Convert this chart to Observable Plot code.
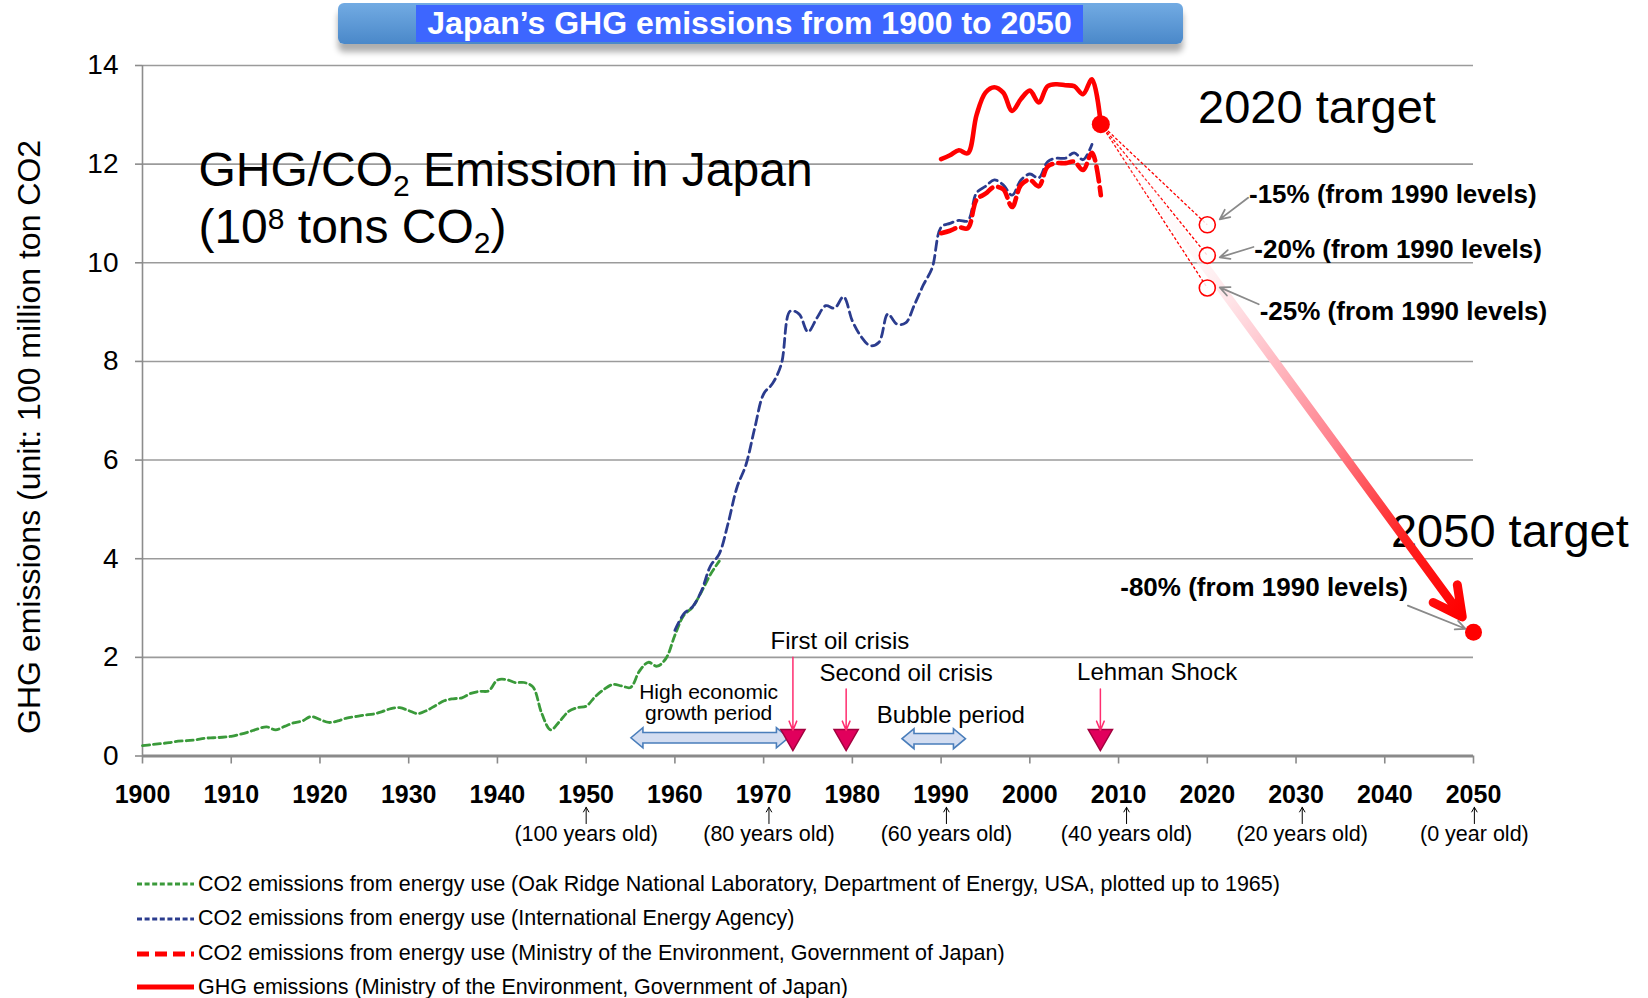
<!DOCTYPE html>
<html>
<head>
<meta charset="utf-8">
<script src="https://cdn.jsdelivr.net/npm/d3@7"></script>
<script src="https://cdn.jsdelivr.net/npm/@observablehq/plot@0.6"></script>
<style>
  html,body{margin:0;padding:0;background:#fff;}
  body{font-family:"Liberation Sans",Arial,Helvetica,sans-serif;color:#000;}
  #wrap{position:relative;width:1648px;height:998px;overflow:hidden;background:#fff;}
  #chart{position:absolute;left:0;top:0;}
  #banner{position:absolute;left:338px;top:3px;width:845px;height:41px;border-radius:6px;
    background:linear-gradient(#72abe3,#4a88c9);box-shadow:0 8px 6px rgba(0,0,0,.32);z-index:3;}
  #banner .inner{position:absolute;left:78px;top:2px;width:667px;height:37px;background:#3d66ff;
    color:#fff;font-weight:bold;font-size:32px;line-height:37px;text-align:center;white-space:nowrap;}
  .lg{position:absolute;left:137px;height:34px;display:flex;align-items:center;font-size:21.5px;white-space:nowrap;}
  .lg svg{margin-right:4px;display:block;}
</style>
</head>
<body>
<div id="wrap">
  <div id="chart"></div>
  <div id="banner"><div class="inner" id="bannerText"></div></div>
  <div id="legend"></div>
</div>
<script>
// ---------------- data ----------------
const chartTitle = "Japan’s GHG emissions from 1900 to 2050";
const yAxisLabel = "GHG emissions (unit: 100 million ton CO2";

// CO2 from energy use, Oak Ridge National Laboratory (1900–1965)
const ornlYears = d3.range(1900, 1966);
const ornlValues = [
  0.21, 0.23, 0.25, 0.27, 0.30, 0.31, 0.33, 0.36, 0.37, 0.38,
  0.40, 0.44, 0.49, 0.55, 0.59, 0.53, 0.60, 0.67, 0.71, 0.80,
  0.74, 0.68, 0.71, 0.77, 0.80, 0.83, 0.85, 0.90, 0.96, 0.98,
  0.92, 0.86, 0.92, 1.02, 1.12, 1.16, 1.18, 1.27, 1.31, 1.32,
  1.54, 1.55, 1.49, 1.49, 1.40, 0.86, 0.53, 0.70, 0.90, 0.98,
  1.01, 1.20, 1.35, 1.45, 1.42, 1.39, 1.72, 1.90, 1.82, 1.98,
  2.45, 2.85, 3.02, 3.33, 3.68, 3.95
];

// CO2 from energy use, International Energy Agency (1960–2007)
const ieaYears = d3.range(1960, 2008);
const ieaValues = [
  2.55, 2.88, 3.03, 3.35, 3.85, 4.10, 4.72, 5.45, 5.90, 6.65,
  7.34, 7.55, 7.95, 9.02, 8.96, 8.60, 8.88, 9.13, 9.08, 9.31,
  8.82, 8.50, 8.32, 8.39, 8.96, 8.76, 8.78, 9.15, 9.55, 9.90,
  10.72, 10.80, 10.86, 10.85, 11.42, 11.55, 11.68, 11.58, 11.37, 11.68,
  11.80, 11.72, 12.05, 12.12, 12.12, 12.23, 12.09, 12.40
];

// Ministry of the Environment (1990–2008)
const moeYears = d3.range(1990, 2009);
const moeCo2Values = [
  10.60, 10.65, 10.72, 10.70, 11.28, 11.40, 11.54, 11.49, 11.13, 11.58,
  11.68, 11.55, 11.95, 12.02, 12.02, 12.05, 11.88, 12.23, 11.37
];
const ghgValues = [
  12.10, 12.18, 12.28, 12.22, 13.00, 13.45, 13.56, 13.45, 13.08, 13.32,
  13.49, 13.25, 13.58, 13.62, 13.60, 13.58, 13.42, 13.72, 12.81
];

// targets
const target2020Year = 2020;
const target2020Values = [10.77, 10.15, 9.49];
const target2020Labels = ["-15% (from 1990 levels)", "-20% (from 1990 levels)", "-25% (from 1990 levels)"];
const target2050Year = 2050;
const target2050Value = 2.51;
const target2050Label = "-80% (from 1990 levels)";
const targetTitles = ["2020 target", "2050 target"];

// axes
const xTicks = d3.range(1900, 2051, 10);
const yTicks = [0, 2, 4, 6, 8, 10, 12, 14];
const ageLabels = ["(100 years old)", "(80 years old)", "(60 years old)", "(40 years old)", "(20 years old)", "(0 year old)"];
const ageYears = [1950.0, 1970.6, 1990.6, 2010.9, 2030.7, 2050.1];

// events and periods
const eventNames = ["First oil crisis", "Second oil crisis", "Lehman Shock"];
const eventYears = [1973.3, 1979.3, 2007.95];
const periodNames = ["High economic\ngrowth period", "Bubble period"];
const periodStarts = [1955.1, 1985.65];
const periodEnds = [1972.85, 1992.8];

const mainLabelLines = ["GHG/CO2 Emission in Japan", "(108 tons CO2)"];

const legendLabels = [
  "CO2 emissions from energy use (Oak Ridge National Laboratory, Department of Energy, USA, plotted up to 1965)",
  "CO2 emissions from energy use (International Energy Agency)",
  "CO2 emissions from energy use (Ministry of the Environment, Government of Japan)",
  "GHG emissions (Ministry of the Environment, Government of Japan)"
];

// ---------------- annotation layout (positions in data units) ----------------
const pctLabelPos = [[2024.7, 11.38], [2025.3, 10.27], [2025.9, 9.01]];
const pctArrowFrom = [[2024.6, 11.32], [2025.2, 10.32], [2025.8, 9.16]];
const pctArrowTo = [[2021.4, 10.88], [2021.4, 10.11], [2021.4, 9.50]];
const pct80LabelPos = [2042.6, 3.42];
const pct80ArrowFrom = [2042.6, 3.05];
const pct80ArrowTo = [2049.1, 2.58];
const targetTitlePos = [[2018.96, 12.84], [2040.7, 4.23]];
const mainLabelPos = [[1906.3, 11.56], [1906.3, 10.41]];
const eventLabelPos = [[1978.6, 2.33], [1986.06, 1.67], [2014.35, 1.70]];
const eventArrowTop = [2.0, 1.36, 1.36];
const eventArrowTip = 0.52;
const eventTriangleLevel = 0.395;
const periodLabelPos = [[1963.8, 1.07], [1991.1, 0.83]];
const periodFontSizes = [21, 24];
const periodLevel = [0.36, 0.34];
const ageTextLevel = -1.59, ageArrowFrom = -1.37, ageArrowTo = -1.04;

const FONT = "Liberation Sans, Arial, Helvetica, sans-serif";

// ---------------- tables ----------------
const ornl = ornlYears.map((year, i) => ({year, value: ornlValues[i]}));
const iea = ieaYears.map((year, i) => ({year, value: ieaValues[i]}));
const moeCo2 = moeYears.map((year, i) => ({year, value: moeCo2Values[i]}));
const ghg = moeYears.map((year, i) => ({year, value: ghgValues[i]}));
const last = ghg[ghg.length - 1];
const targets2020 = target2020Values.map((value, i) => ({
  year: target2020Year, value, label: target2020Labels[i],
  lx: pctLabelPos[i][0], ly: pctLabelPos[i][1],
  ax1: pctArrowFrom[i][0], ay1: pctArrowFrom[i][1], ax2: pctArrowTo[i][0], ay2: pctArrowTo[i][1]
}));
const grayArrows = targets2020.map(d => ({x1: d.ax1, y1: d.ay1, x2: d.ax2, y2: d.ay2}))
  .concat([{x1: pct80ArrowFrom[0], y1: pct80ArrowFrom[1], x2: pct80ArrowTo[0], y2: pct80ArrowTo[1]}]);
const events = eventNames.map((name, i) => ({name, year: eventYears[i],
  lx: eventLabelPos[i][0], ly: eventLabelPos[i][1], top: eventArrowTop[i]}));
const periods = periodNames.map((name, i) => ({name, start: periodStarts[i], end: periodEnds[i],
  lx: periodLabelPos[i][0], ly: periodLabelPos[i][1], level: periodLevel[i], fs: periodFontSizes[i]}));
const ages = ageLabels.map((label, i) => ({label, year: ageYears[i]}));
const titles = targetTitles.map((t, i) => ({t, x: targetTitlePos[i][0], y: targetTitlePos[i][1]}));
const mainLines = mainLabelLines.map((t, i) => ({t, x: mainLabelPos[i][0], y: mainLabelPos[i][1]}));

// gradient definition for the big arrow
const gradientDefs = () => {
  const defs = d3.create("svg:defs");
  const lg = defs.append("linearGradient").attr("id", "bigArrowGrad")
    .attr("x1", 0).attr("y1", 0).attr("x2", 1).attr("y2", 1);
  [[0, "#ffffff", 0], [0.25, "#fff0f2", 0.5], [0.42, "#ffcdd4", 1], [0.64, "#ff808c", 1], [0.84, "#ff2020", 1], [1, "#ff0000", 1]]
    .forEach(([o, c, a]) => lg.append("stop").attr("offset", o).attr("stop-color", c).attr("stop-opacity", a));
  return defs.node();
};

// double-headed block arrows for periods
const periodArrows = (index, scales) => {
  const sx = scales.x || (scales.scales && scales.scales.x.apply);
  const sy = scales.y || (scales.scales && scales.scales.y.apply);
  const g = d3.create("svg:g");
  const bh = 5.3, hh = 10, hl = 12;
  for (const p of periods) {
    const x1 = sx(p.start), x2 = sx(p.end), y = sy(p.level);
    const d = `M${x1},${y}L${x1 + hl},${y - hh}L${x1 + hl},${y - bh}L${x2 - hl},${y - bh}L${x2 - hl},${y - hh}L${x2},${y}` +
              `L${x2 - hl},${y + hh}L${x2 - hl},${y + bh}L${x1 + hl},${y + bh}L${x1 + hl},${y + hh}Z`;
    g.append("path").attr("d", d).attr("fill", "#d3ddf1").attr("stroke", "#4a7ebb").attr("stroke-width", 1.6);
  }
  return g.node();
};

const plot = Plot.plot({
  width: 1648,
  height: 860,
  marginTop: 65,
  marginBottom: 104.5,
  marginLeft: 142,
  marginRight: 175,
  x: {domain: [1900, 2050]},
  y: {domain: [0, 14]},
  style: {fontFamily: FONT, fontSize: "20px", color: "#000", background: "transparent", overflow: "visible"},
  marks: [
    gradientDefs,
    Plot.ruleY(yTicks.filter(d => d > 0), {x1: 1900, x2: 2050, stroke: "#9b9b9b", strokeWidth: 1.6}),
    Plot.ruleX([1900], {y1: 0, y2: 14, stroke: "#8c8c8c", strokeWidth: 1.6}),
    Plot.axisY(yTicks, {tickSize: 7, tickPadding: 17, fontSize: 28, stroke: "#8c8c8c", strokeWidth: 1.6, color: "#000", label: null, tickFormat: d => String(d)}),
    Plot.ruleY([0], {x1: 1900, x2: 2050, stroke: "#8a8a8a", strokeWidth: 3}),
    Plot.axisX(xTicks, {tickSize: 8, tickPadding: 21, fontSize: 25, fontWeight: "bold", stroke: "#8a8a8a", strokeWidth: 1.6, color: "#000", label: null, tickFormat: d => String(d)}),

    // series
    Plot.line(ornl, {x: "year", y: "value", stroke: "#3a9a3a", strokeWidth: 2.8, strokeDasharray: "7,4", curve: "catmull-rom"}),
    Plot.line(iea, {x: "year", y: "value", stroke: "#2b3c8e", strokeWidth: 2.8, strokeDasharray: "9,5", curve: "catmull-rom"}),
    Plot.line(moeCo2, {x: "year", y: "value", stroke: "#ff0000", strokeWidth: 4.6, strokeDasharray: "15,6", curve: "catmull-rom"}),
    Plot.line(ghg, {x: "year", y: "value", stroke: "#ff0000", strokeWidth: 4.6, curve: "catmull-rom"}),

    // target titles (drawn under the big arrow)
    Plot.text(titles, {x: "x", y: "y", text: "t", fontSize: 47, textAnchor: "start", lineAnchor: "bottom", fill: "#000"}),

    // 2020 dotted paths
    Plot.link(targets2020, {x1: last.year, y1: last.value, x2: "year", y2: "value", stroke: "#ff0000", strokeWidth: 1.3, strokeDasharray: "3,2"}),

    // big gradient arrow to 2050 target
    Plot.arrow([{x1: last.year, y1: last.value, x2: target2050Year, y2: target2050Value}],
      {x1: "x1", y1: "y1", x2: "x2", y2: "y2", stroke: "url(#bigArrowGrad)", strokeWidth: 9, headLength: 5.4, headAngle: 55, insetStart: 10, insetEnd: 19}),

    Plot.dot(targets2020, {x: "year", y: "value", r: 8, stroke: "#ff0000", fill: "white", fillOpacity: 0.85, strokeWidth: 1.6}),
    Plot.dot([last], {x: "year", y: "value", r: 9, fill: "#ff0000"}),
    Plot.dot([{year: target2050Year, value: target2050Value}], {x: "year", y: "value", r: 8.5, fill: "#ff0000"}),

    // percentage annotations
    Plot.arrow(grayArrows, {x1: "x1", y1: "y1", x2: "x2", y2: "y2", stroke: "#8a8a8a", strokeWidth: 1.8, headLength: 9, headAngle: 50}),
    Plot.text(targets2020, {x: "lx", y: "ly", text: "label", fontSize: 26, fontWeight: "bold", textAnchor: "start", fill: "#000"}),
    Plot.text([target2050Label], {x: pct80LabelPos[0], y: pct80LabelPos[1], text: d => d, fontSize: 26, fontWeight: "bold", textAnchor: "end", fill: "#000"}),

    // main label
    Plot.text(mainLines, {x: "x", y: "y", text: "t", fontSize: 48, textAnchor: "start", lineAnchor: "bottom", fill: "#000"}),

    // periods
    periodArrows,
    Plot.text(periods, {x: "lx", y: "ly", text: "name", fontSize: "fs", lineHeight: 1.0, textAnchor: "middle", lineAnchor: "middle", fill: "#000"}),

    // events
    Plot.dot(events, {x: "year", y: eventTriangleLevel, symbol: "triangle", rotate: 180, r: 9, fill: "#e1005c", stroke: "#a3003e", strokeWidth: 1.5}),
    Plot.arrow(events, {x1: "year", x2: "year", y1: "top", y2: eventArrowTip, stroke: "#ff2d6f", strokeWidth: 1.5, headLength: 10, headAngle: 45}),
    Plot.text(events, {x: "lx", y: "ly", text: "name", fontSize: 24, textAnchor: "middle", fill: "#000"}),

    // ages under axis
    Plot.arrow(ages, {x1: "year", x2: "year", y1: ageArrowFrom, y2: ageArrowTo, stroke: "#000", strokeWidth: 1, headLength: 8}),
    Plot.text(ages, {x: "year", y: ageTextLevel, text: "label", fontSize: 21.5, textAnchor: "middle", fill: "#000"}),

    // y axis title
    Plot.text([yAxisLabel], {x: 1900, y: 6.47, dx: -113, text: d => d, rotate: -90, fontSize: 32, textAnchor: "middle", lineAnchor: "middle", fill: "#000"})
  ]
});

document.getElementById("chart").append(plot);
document.getElementById("bannerText").textContent = chartTitle;

// rich text (sub/superscripts) for the main label
const richParts = {
  "GHG/CO2 Emission in Japan": [["GHG/CO", 0], ["2", 1], [" Emission in Japan", 0]],
  "(108 tons CO2)": [["(10", 0], ["8", 2], [" tons CO", 0], ["2", 1], [")", 0]]
};
plot.querySelectorAll("text").forEach(t => {
  const parts = richParts[t.textContent];
  if (!parts) return;
  t.textContent = "";
  let shift = 0;
  for (const [s, kind] of parts) {
    const ts = document.createElementNS("http://www.w3.org/2000/svg", "tspan");
    const target = kind === 1 ? 10 : kind === 2 ? -14 : 0;
    ts.setAttribute("dy", target - shift);
    shift = target;
    if (kind) ts.setAttribute("font-size", "30");
    ts.textContent = s;
    t.appendChild(ts);
  }
});

// legend
const legendStyles = [
  {color: "#3a9a3a", width: 3, dash: "5,2.6"},
  {color: "#2b3c8e", width: 3, dash: "5,2.6"},
  {color: "#ff0000", width: 5, dash: "12,6"},
  {color: "#ff0000", width: 5, dash: null}
];
const legendRowCenters = [884.3, 918.5, 953.5, 987.3];
const legend = d3.select("#legend");
legendLabels.forEach((label, i) => {
  const st = legendStyles[i];
  const row = legend.append("div").attr("class", "lg").style("top", (legendRowCenters[i] - 17) + "px");
  const s = row.append("svg").attr("width", 57).attr("height", 10);
  s.append("line").attr("x1", 0).attr("x2", 57).attr("y1", 5).attr("y2", 5)
    .attr("stroke", st.color).attr("stroke-width", st.width).attr("stroke-dasharray", st.dash);
  row.append("span").text(label);
});
</script>
</body>
</html>
